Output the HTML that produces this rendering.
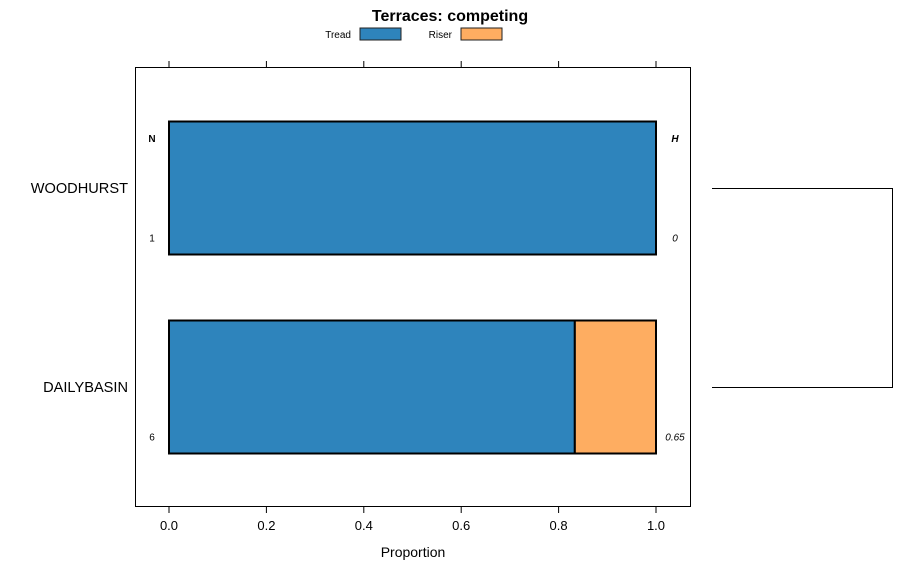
<!DOCTYPE html>
<html><head><meta charset="utf-8"><style>
body{margin:0;background:#fff;}
svg{display:block;font-family:"Liberation Sans",sans-serif;}
</style></head><body>
<svg id="chart" width="900" height="580">
<text x="450" y="21" text-anchor="middle" font-size="16" font-weight="bold">Terraces: competing</text>
<g>
<text x="351" y="38" text-anchor="end" font-size="10">Tread</text>
<rect x="360" y="28" width="41" height="12" fill="#2e84bc" stroke="#222"/>
<text x="452" y="38" text-anchor="end" font-size="10">Riser</text>
<rect x="461" y="28" width="41" height="12" fill="#fead61" stroke="#222"/>
</g>
<rect x="135.5" y="67.5" width="555" height="439" fill="none" stroke="#000"/>
<g id="marks"></g>
<text x="413" y="557" text-anchor="middle" font-size="14">Proportion</text>
<g stroke="#000" fill="none">
<path d="M712 188.5H892.5V387.5H712"/>
</g>
</svg>
<script>
const categories = ["WOODHURST", "DAILYBASIN"];
const treadValues = [1, 0.8333];
const riserValues = [0, 0.1667];
const nLabels = ["1", "6"];
const hLabels = ["0", "0.65"];
const xTicks = [0, 0.2, 0.4, 0.6, 0.8, 1.0];
const xTickLabels = ["0.0", "0.2", "0.4", "0.6", "0.8", "1.0"];

const NS = "http://www.w3.org/2000/svg";
const g = document.getElementById("marks");
const xs = v => 169 + v * 487;
const yc = i => 188 + i * 199; // band center
const bh = 133;
function mk(tag, attrs, txt){
  const e = document.createElementNS(NS, tag);
  for (const k in attrs) e.setAttribute(k, attrs[k]);
  if (txt !== undefined) e.textContent = txt;
  g.appendChild(e); return e;
}
xTicks.forEach((t, i) => {
  let e = mk("line", {x1: xs(t), x2: xs(t), y1: 506, y2: 513, stroke: "#000"});
  
  
  e = mk("line", {x1: xs(t), x2: xs(t), y1: 61, y2: 67, stroke: "#000"});
  
  
  e = mk("text", {x: xs(t), y: 530, "text-anchor": "middle", "font-size": 13}, xTickLabels[i]);
  
  
});
categories.forEach((c, i) => {
  const y0 = yc(i) - bh / 2;
  let e = mk("rect", {x: xs(0), y: y0, width: xs(treadValues[i]) - xs(0), height: bh, fill: "#2e84bc", stroke: "#000", "stroke-width": 2});
  
  
  if (riserValues[i] > 0) {
    e = mk("rect", {x: xs(treadValues[i]), y: y0, width: xs(treadValues[i] + riserValues[i]) - xs(treadValues[i]), height: bh, fill: "#fead61", stroke: "#000", "stroke-width": 2});
    
    
  }
  e = mk("text", {x: 128, y: yc(i) + 5, "text-anchor": "end", "font-size": 14.6}, c);
  
  
  e = mk("text", {x: 152, y: y0 + 120, "text-anchor": "middle", "font-size": 10}, nLabels[i]);
  
  
  e = mk("text", {x: 675, y: y0 + 120, "text-anchor": "middle", "font-size": 10, "font-style": "italic"}, hLabels[i]);
  
  
});
let e = mk("text", {x: 152, y: 142, "text-anchor": "middle", "font-size": 10, "font-weight": "bold"}, "N");


e = mk("text", {x: 675, y: 142, "text-anchor": "middle", "font-size": 10, "font-weight": "bold", "font-style": "italic"}, "H");


</script>
</body></html>
